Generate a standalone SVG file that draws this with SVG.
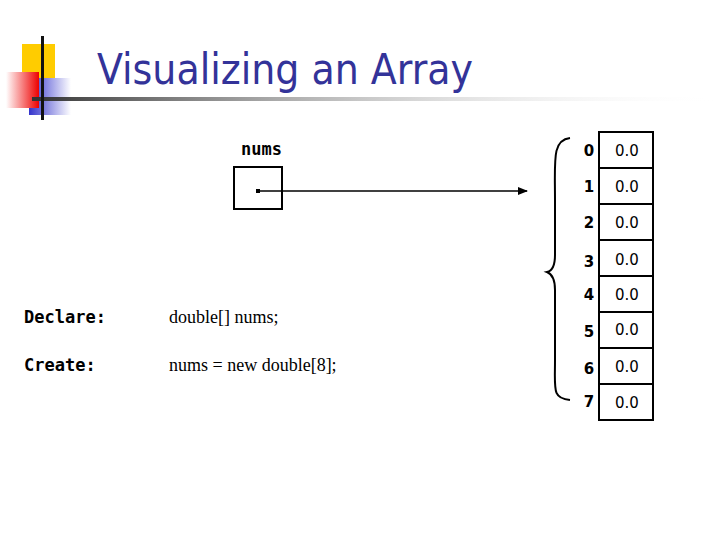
<svg xmlns="http://www.w3.org/2000/svg" width="720" height="540" viewBox="0 0 720 540">
<style>
.cell{fill:#fff;stroke:#000;stroke-width:2}
.idx{font-family:"DejaVu Sans",sans-serif;font-size:15px;font-weight:bold;text-anchor:middle}
.val{font-family:"DejaVu Sans",sans-serif;font-size:15px;text-anchor:middle}
.mono{font-family:"DejaVu Sans Mono","Liberation Mono",monospace;font-size:17px;font-weight:bold}
.ser{font-family:"Liberation Serif",serif;font-size:18px}
</style>
<defs>
<linearGradient id="rl" x1="0" x2="1"><stop offset="0" stop-color="#333"/><stop offset="1" stop-color="#fff" stop-opacity="0"/></linearGradient>
<linearGradient id="rd" x1="1" x2="0"><stop offset="0" stop-color="#e00"/><stop offset="1" stop-color="#fff"/></linearGradient>
<linearGradient id="bl" x1="0" x2="1"><stop offset="0" stop-color="#3333cc"/><stop offset="1" stop-color="#fff"/></linearGradient>
<marker id="ah" markerWidth="10" markerHeight="8" refX="9" refY="4" orient="auto" markerUnits="userSpaceOnUse"><path d="M0,0L10,4L0,8z" fill="#000"/></marker>
</defs>
<g id="logo">
<rect x="22" y="44" width="33" height="36" fill="#ffcc00"/>
<rect x="29" y="78" width="42" height="37" fill="url(#bl)"/>
<rect x="6" y="72" width="33" height="36" fill="url(#rd)"/>
<rect x="32" y="97" width="690" height="4" fill="url(#rl)"/>
<rect x="41" y="36" width="3" height="84" fill="#111"/>
<text x="97" y="84" font-family="DejaVu Sans Condensed,DejaVu Sans,sans-serif" font-size="42" fill="#333399" textLength="376" lengthAdjust="spacingAndGlyphs">Visualizing an Array</text>
</g>
<g id="nums">
<text x="241" y="155" class="mono">nums</text>
<rect x="234" y="167" width="48" height="42" class="cell"/>
<rect x="256" y="189" width="4" height="4" fill="#000"/>
</g>
<g id="connectors">
<path d="M258,191H527" stroke="#000" stroke-width="1.5" marker-end="url(#ah)"/>
<path d="M570,138C552,140 555,160 555,200V255C555,266 552,271 547,272C552,274 555,279 555,290V360C555,390 552,398 570,400" fill="none" stroke="#000" stroke-width="2"/>
</g>
<g id="array">
<rect x="599" y="132" width="54" height="36" class="cell"/>
<rect x="599" y="168" width="54" height="36" class="cell"/>
<rect x="599" y="204" width="54" height="36" class="cell"/>
<rect x="599" y="240" width="54" height="36" class="cell"/>
<rect x="599" y="276" width="54" height="36" class="cell"/>
<rect x="599" y="312" width="54" height="36" class="cell"/>
<rect x="599" y="348" width="54" height="36" class="cell"/>
<rect x="599" y="384" width="54" height="36" class="cell"/>
<text class="val" x="627" y="156">0.0</text>
<text class="val" x="627" y="192">0.0</text>
<text class="val" x="627" y="228">0.0</text>
<text class="val" x="627" y="265">0.0</text>
<text class="val" x="627" y="300">0.0</text>
<text class="val" x="627" y="335">0.0</text>
<text class="val" x="627" y="372">0.0</text>
<text class="val" x="627" y="408">0.0</text>
<text class="idx" x="589" y="156">0</text>
<text class="idx" x="589" y="192">1</text>
<text class="idx" x="589" y="228">2</text>
<text class="idx" x="589" y="267">3</text>
<text class="idx" x="589" y="300">4</text>
<text class="idx" x="589" y="337">5</text>
<text class="idx" x="589" y="374">6</text>
<text class="idx" x="589" y="407">7</text>
</g>
<g id="code">
<text x="24" y="323" class="mono">Declare:</text>
<text x="24" y="371" class="mono">Create:</text>
<text x="169" y="323" class="ser">double[] nums;</text>
<text x="169" y="371" class="ser">nums = new double[8];</text>
</g>
</svg>
